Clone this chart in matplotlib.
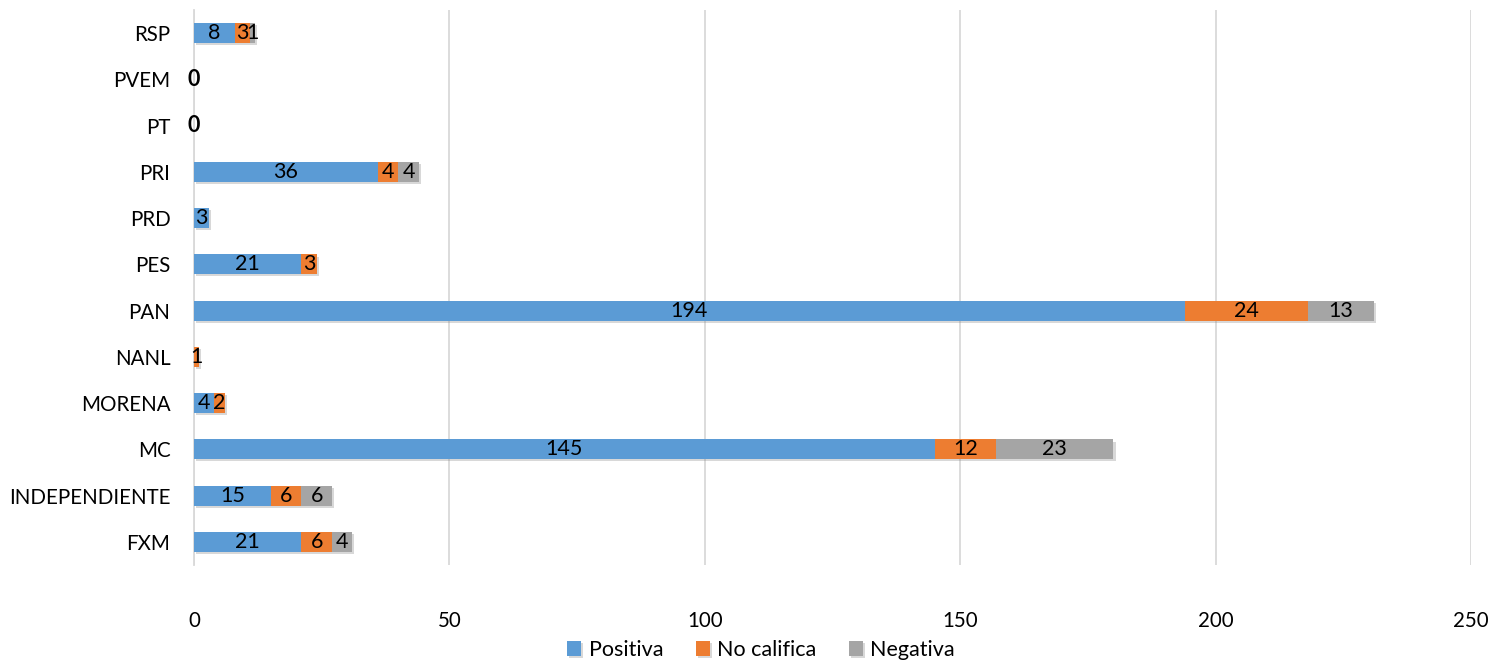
import matplotlib
matplotlib.use("Agg")
import matplotlib.pyplot as plt
import matplotlib.patheffects as pe
import numpy as np

categories = ["FXM", "INDEPENDIENTE", "MC", "MORENA", "NANL", "PAN", "PES",
              "PRD", "PRI", "PT", "PVEM", "RSP"]
positiva = [21, 15, 145, 4, 0, 194, 21, 3, 36, 0, 0, 8]
no_califica = [6, 6, 12, 2, 1, 24, 3, 0, 4, 0, 0, 3]
negativa = [4, 6, 23, 0, 0, 13, 0, 0, 4, 0, 0, 1]
series_names = ["Positiva", "No califica", "Negativa"]
colors = ["#5B9BD5", "#ED7D31", "#A5A5A5"]
xticks = [0, 50, 100, 150, 200, 250]

plt.rcParams['font.family'] = ['Lato', 'DejaVu Sans']
FS = 14.8

fig = plt.figure(figsize=(14.93, 6.61), dpi=100)
ax = fig.add_axes([194/1493, 1-565/661, (1471-194)/1493, (565-10)/661])

y = np.arange(len(categories))
left = np.zeros(len(categories))
shadow = [pe.SimplePatchShadow(offset=(1.5, -1.5), shadow_rgbFace='gray', alpha=0.3), pe.Normal()]
for name, vals, col in zip(series_names, [positiva, no_califica, negativa], colors):
    vals = np.array(vals, dtype=float)
    bars = ax.barh(y, vals, left=left, height=0.43, color=col, label=name, zorder=3)
    for b in bars:
        b.set_path_effects(shadow)
    for yi, l, v in zip(y, left, vals):
        if v > 0:
            ax.text(l + v/2, yi, f"{int(v)}", ha='center', va='center', fontsize=15.5,
                    color='#000000', zorder=5)
    left += vals

for yi, tot in zip(y, left):
    if tot == 0:
        ax.text(0, yi, "0", ha='center', va='center', fontsize=15.5, fontweight='bold',
                color='#000000', zorder=5)

ax.set_xlim(0, 250)
ax.set_ylim(-0.5, len(categories) - 0.5)
ax.set_yticks(y)
ax.set_yticklabels(categories, fontsize=FS, color='#000000')
ax.set_xticks(xticks)
ax.set_xticklabels([str(t) for t in xticks], fontsize=FS, color='#000000')
ax.tick_params(axis='both', length=0)
ax.tick_params(axis='y', pad=17)
ax.tick_params(axis='x', pad=33)
ax.grid(axis='x', color='#D9D9D9', linewidth=1.3, zorder=0)
for s in ['top', 'right', 'bottom']:
    ax.spines[s].set_visible(False)
ax.spines['left'].set_color('#D9D9D9')
ax.spines['left'].set_linewidth(1.3)

ax.legend(loc='center', bbox_to_anchor=(761/1493, 1-650/661), bbox_transform=fig.transFigure,
          ncol=3, frameon=False, fontsize=15.5, handlelength=0.65, handleheight=0.65,
          handletextpad=0.35, columnspacing=1.5, borderpad=0)

fig.savefig("out.png", dpi=100)
